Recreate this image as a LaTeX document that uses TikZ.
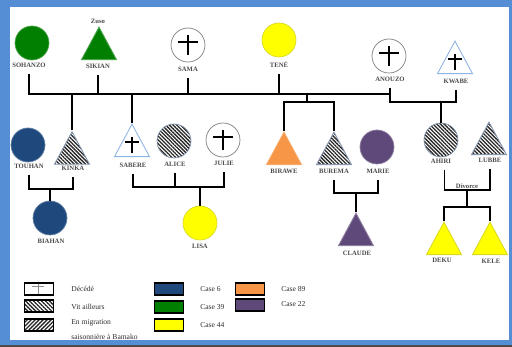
\documentclass[tikz,border=0pt]{standalone}
\usepackage{fontspec}
\setmainfont{Liberation Serif}
\usetikzlibrary{shapes.geometric,patterns.meta}

\definecolor{frameblue}{HTML}{558ED5}
\definecolor{caseblue}{HTML}{1F497D}
\definecolor{casegreen}{HTML}{007F00}
\definecolor{caseyellow}{HTML}{FFFF00}
\definecolor{caseorange}{HTML}{F79646}
\definecolor{casepurple}{HTML}{5F497A}
\definecolor{triedge}{HTML}{8EB4E3}
\definecolor{hatchedge}{HTML}{8496B0}
\definecolor{namegrey}{HTML}{4A4A4A}
\definecolor{keygrey}{HTML}{2E2E2E}

\begin{document}
\begin{tikzpicture}[x=0.02cm,y=-0.02cm,
    person/.style={circle,inner sep=0pt,minimum size=0.68cm,line width=0.4pt},
    tri/.style={isosceles triangle,shape border rotate=90,
        isosceles triangle stretches,inner sep=0pt,
        minimum width=0.7cm,minimum height=0.65cm,anchor=apex,line width=0.5pt},
    case6/.style={fill=caseblue,draw=caseblue!70!white},
    case39/.style={fill=casegreen,draw=casegreen!70!white},
    case44/.style={fill=caseyellow,draw=caseyellow!70!gray},
    case89/.style={fill=caseorange,draw=caseorange!80!white},
    case22/.style={fill=casepurple,draw=casepurple!70!white},
    hatched/.style={draw=hatchedge,pattern={Lines[angle=-45,distance=1.5pt,line width=0.75pt]},pattern color=black!85},
    dead/.style={fill=white,draw=black!50,path picture={
        \draw[black,line width=1.1pt] ([yshift=5.7pt]path picture bounding box.center)
            -- ([yshift=-5.7pt]path picture bounding box.center);
        \draw[black,line width=1.1pt] ([xshift=-5.7pt,yshift=1.7pt]path picture bounding box.center)
            -- ([xshift=5.7pt,yshift=1.7pt]path picture bounding box.center);}},
    deadtri/.style={fill=white,draw=triedge,path picture={
        \draw[black,line width=1.1pt] ([yshift=2pt]path picture bounding box.south)
            -- ([yshift=11pt]path picture bounding box.south);
        \draw[black,line width=1.1pt] ([xshift=-4pt,yshift=8.2pt]path picture bounding box.south)
            -- ([xshift=4pt,yshift=8.2pt]path picture bounding box.south);}},
    pname/.style={font=\fontsize{3.8}{4}\selectfont\bfseries,text=namegrey,inner sep=0.5pt},
    link/.style={line width=0.9pt,shorten <=3pt,shorten >=3pt},
    drop/.style={line width=0.9pt},
    legbox/.style={rectangle,draw=black,line width=0.9pt,minimum width=0.58cm,minimum height=0.25cm,inner sep=0pt},
    keytext/.style={font=\fontsize{4.3}{8.5}\selectfont,text=keygrey,anchor=west,inner sep=0pt,align=left}]

    \useasboundingbox (0,0) rectangle (512,347);
    \fill[frameblue] (0,0) rectangle (512,347);
    \fill[white] (10,7) rectangle (509,340);
    \fill[black!70] (0,345.5) rectangle (512,347);

    \coordinate (bar1) at (0,94);
    \coordinate (bar2) at (0,102);
    \coordinate (sibs) at (307,94);
    \coordinate (m1) at (0,189);
    \coordinate (m2) at (0,187);
    \coordinate (m3) at (0,193);
    \coordinate (m4) at (0,190);
    \coordinate (m5) at (0,207);

    % first generation
    \node[person,case39] (sohanzo) at (32,43) {};
    \node[tri,case39] (sikian) at (99,26) {};
    \node[person,dead] (sama) at (188,45) {};
    \node[person,case44] (tene) at (279,40) {};
    \node[person,dead] (anouzo) at (389,56) {};
    \node[tri,deadtri] (kwabe) at (455,40) {};

    \node[pname] (sohanzo-n) at (29,65) {SOHANZO};
    \node[pname] (zuso-n) at (98,21) {Zuso};
    \node[pname] (sikian-n) at (98,66) {SIKIAN};
    \node[pname] (sama-n) at (188,69) {SAMA};
    \node[pname] (tene-n) at (279,65) {TENÉ};
    \node[pname] (anouzo-n) at (390,79) {ANOUZO};
    \node[pname] (kwabe-n) at (456,81) {KWABE};

    % second generation
    \node[person,case6] (touhan) at (28,145) {};
    \node[tri,hatched] (kinka) at (72,130) {};
    \node[tri,deadtri] (sabere) at (132,123) {};
    \node[person,hatched] (alice) at (174,141) {};
    \node[person,dead] (julie) at (223,140) {};
    \node[tri,case89] (birawe) at (284,131) {};
    \node[tri,hatched] (burema) at (334,131) {};
    \node[person,case22] (marie) at (377,147) {};
    \node[person,hatched] (ahiri) at (441,140) {};
    \node[tri,hatched] (lubbe) at (489,121) {};

    \node[pname] (touhan-n) at (29,166) {TOUHAN};
    \node[pname] (kinka-n) at (73,168) {KINKA};
    \node[pname] (sabere-n) at (133,165) {SABERE};
    \node[pname] (alice-n) at (175,164) {ALICE};
    \node[pname] (julie-n) at (224,163) {JULIE};
    \node[pname] (birawe-n) at (284,171) {BIRAWE};
    \node[pname] (burema-n) at (334,171) {BUREMA};
    \node[pname] (marie-n) at (378,171) {MARIE};
    \node[pname] (ahiri-n) at (441,161) {AHIRI};
    \node[pname] (lubbe-n) at (490,160) {LUBBE};
    \node[pname] (divorce-n) at (467,186) {Divorce};

    % third generation
    \node[person,case6] (biahan) at (50,218) {};
    \node[person,case44] (lisa) at (200,223) {};
    \node[tri,case22] (claude) at (356,212) {};
    \node[tri,case44] (deku) at (444,221) {};
    \node[tri,case44] (kele) at (490,221) {};

    \node[pname] (biahan-n) at (51,241) {BIAHAN};
    \node[pname] (lisa-n) at (200,246) {LISA};
    \node[pname] (claude-n) at (357,253) {CLAUDE};
    \node[pname] (deku-n) at (442,260) {DEKU};
    \node[pname] (kele-n) at (491,261) {KELE};

    % links
    \draw[link,shorten >=0pt] (sohanzo-n.south) |- (anouzo-n.south |- bar1);
    \foreach \p in {sikian,sama,tene}
        \draw[link,shorten >=0pt] (\p-n.south) -- (\p-n.south |- bar1);
    \draw[link] (anouzo-n.south) |- (kwabe-n.south |- bar2) -- (kwabe-n.south);
    \draw[drop] (kinka.apex |- bar1) -- (kinka.apex);
    \draw[drop] (sabere.apex |- bar1) -- (sabere.apex);
    \draw[drop] (sibs) -- (sibs |- bar2);
    \draw[drop] (birawe.apex) |- (burema.apex |- bar2) -- (burema.apex);
    \draw[drop] (ahiri.north |- bar2) -- (ahiri.north);

    \draw[link] (touhan-n.south) |- (kinka-n.south |- m1) -- (kinka-n.south);
    \draw[drop] (biahan.north |- m1) -- (biahan.north);
    \draw[link] (sabere-n.south) |- (julie-n.south |- m2) -- (julie-n.south);
    \draw[link,shorten >=0pt] (alice-n.south) -- (alice-n.south |- m2);
    \draw[drop] (lisa.north |- m2) -- (lisa.north);
    \draw[link] (burema-n.south) |- (marie-n.south |- m3) -- (marie-n.south);
    \draw[drop] (claude.apex |- m3) -- (claude.apex);
    \draw[link] ([xshift=2pt]ahiri-n.south) |- (lubbe-n.south |- m4) -- (lubbe-n.south);
    \draw[drop] (divorce-n.south |- m4) |- (deku.apex |- m5) -- (deku.apex);
    \draw[drop] (divorce-n.south |- m5) -| (kele.apex);

    % key
    \node[legbox,fill=white,path picture={
        \draw[black!45,line width=0.5pt] ([xshift=-0.5pt]path picture bounding box.north)
            -- ([xshift=-0.5pt]path picture bounding box.south);
        \draw[black!45,line width=0.5pt] ([xshift=-3.9pt,yshift=-2.3pt]path picture bounding box.north)
            -- ([xshift=2.9pt,yshift=-2.3pt]path picture bounding box.north);}] (k-dead) at (39,289) {};
    \node[legbox,pattern={Lines[angle=-45,distance=1.6pt,line width=0.75pt]},pattern color=black!85] (k-away) at (39,306) {};
    \node[legbox,pattern={Lines[angle=45,distance=1.6pt,line width=0.75pt]},pattern color=black!85] (k-migr) at (39,325) {};
    \node[legbox,fill=caseblue] (k-6) at (169,289) {};
    \node[legbox,fill=casegreen] (k-39) at (169,307) {};
    \node[legbox,fill=caseyellow] (k-44) at (169,325) {};
    \node[legbox,fill=caseorange] (k-89) at (250,289) {};
    \node[legbox,fill=casepurple] (k-22) at (250,305) {};

    \node[keytext] (t-dead) at (71,289) {Décédé};
    \node[keytext] (t-away) at (71,307) {Vit ailleurs};
    \node[keytext] (t-migr) at (71,330) {En migration\\saisonnière à Bamako};
    \node[keytext] (t-6) at (200,289) {Case 6};
    \node[keytext] (t-39) at (200,307) {Case 39};
    \node[keytext] (t-44) at (200,325) {Case 44};
    \node[keytext] (t-89) at (281,289) {Case 89};
    \node[keytext] (t-22) at (281,304) {Case 22};
\end{tikzpicture}
\end{document}
